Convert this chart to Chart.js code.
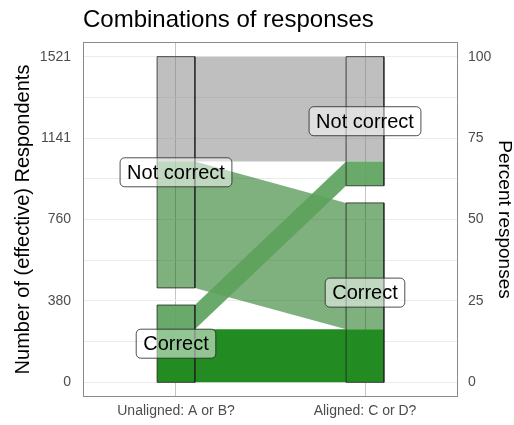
<!DOCTYPE html>
<html><head><meta charset="utf-8">
<script src="https://cdn.jsdelivr.net/npm/chart.js@4/dist/chart.umd.min.js"></script>
<style>html,body{margin:0;padding:0;background:#fff}</style>
</head><body>
<div style="width:514px;height:425px"><canvas id="c" width="514" height="425"></canvas></div>
<script>
// ---- data ----
const titleText = 'Combinations of responses';
const axisNames = ['Unaligned: A or B?', 'Aligned: C or D?'];
const strataNames = ['Correct', 'Not correct'];
const strataLabels = ['Correct', 'Not correct'];
const flowFrom = ['Not correct', 'Not correct', 'Correct', 'Correct'];
const flowTo   = ['Not correct', 'Correct', 'Not correct', 'Correct'];
const flowCounts = [490, 590, 113, 248];
const stratumGap = 80;
const countTicks = [0, 380, 760, 1141, 1521];
const countMinorTicks = [190, 570, 950, 1331];
const percentTicks = [0, 25, 50, 75, 100];
const countAxisTitle = 'Number of (effective) Respondents';
const percentAxisTitle = 'Percent responses';

// ---- styles ----
const flowColors = ['rgba(128,128,128,0.5)', 'rgba(0,100,0,0.5)', 'rgba(92,162,92,0.92)', 'rgb(34,139,34)'];
const boxHalf = 0.1;
const FONT = '"Liberation Sans", Arial, Helvetica, sans-serif';
Chart.defaults.font.family = FONT;

// ---- stacking (ggalluvial-like) ----
function stackAxis(keyArr, otherArr) {
  const lodes = new Array(flowCounts.length);
  const strata = {};
  let y = 0;
  strataNames.forEach((s, si) => {
    if (si > 0) y += stratumGap;
    const lo = y;
    const idx = flowCounts.map((_, i) => i).filter(i => keyArr[i] === s)
      .sort((a, b) => strataNames.indexOf(otherArr[a]) - strataNames.indexOf(otherArr[b]));
    idx.forEach(i => { lodes[i] = [y, y + flowCounts[i]]; y += flowCounts[i]; });
    strata[s] = [lo, y];
  });
  return {lodes, strata, total: y};
}
const left = stackAxis(flowFrom, flowTo);
const right = stackAxis(flowTo, flowFrom);
const axesStack = [left, right];
const total = countTicks[countTicks.length - 1];
const yMin = -total * 0.045, yMax = total * 1.045;

// ---- datasets ----
const datasets = [];
axesStack.forEach((st, ai) => {
  const a = ai + 1;
  strataNames.forEach(s => {
    const [lo, hi] = st.strata[s];
    datasets.push({
      data: [{x: a - boxHalf, y: lo}, {x: a - boxHalf, y: hi}, {x: a + boxHalf, y: hi}, {x: a + boxHalf, y: lo}, {x: a - boxHalf, y: lo}],
      borderColor: '#222', borderWidth: 0.8, pointRadius: 0, fill: false, tension: 0
    });
  });
});
for (let i = flowCounts.length - 1; i >= 0; i--) {
  const L = left.lodes[i], R = right.lodes[i];
  const top = [{x: 1 - boxHalf, y: L[1]}, {x: 1 + boxHalf, y: L[1]}, {x: 2 - boxHalf, y: R[1]}, {x: 2 + boxHalf, y: R[1]}];
  const bot = [{x: 1 - boxHalf, y: L[0]}, {x: 1 + boxHalf, y: L[0]}, {x: 2 - boxHalf, y: R[0]}, {x: 2 + boxHalf, y: R[0]}];
  datasets.push({data: top, borderColor: 'transparent', borderWidth: 0, pointRadius: 0, tension: 0, fill: '+1', backgroundColor: flowColors[i]});
  datasets.push({data: bot, borderColor: 'transparent', borderWidth: 0, pointRadius: 0, tension: 0, fill: false});
}

function roundRect(ctx, x, y, w, h, r) {
  ctx.beginPath();
  ctx.moveTo(x + r, y);
  ctx.lineTo(x + w - r, y); ctx.arcTo(x + w, y, x + w, y + r, r);
  ctx.lineTo(x + w, y + h - r); ctx.arcTo(x + w, y + h, x + w - r, y + h, r);
  ctx.lineTo(x + r, y + h); ctx.arcTo(x, y + h, x, y + h - r, r);
  ctx.lineTo(x, y + r); ctx.arcTo(x, y, x + r, y, r);
  ctx.closePath();
}

const decor = {
  id: 'decor',
  afterDatasetsDraw(chart) {
    const ctx = chart.ctx, xs = chart.scales.x, ys = chart.scales.y;
    ctx.save();
    ctx.font = '20px ' + FONT;
    ctx.textAlign = 'center';
    ctx.textBaseline = 'middle';
    axesStack.forEach((st, ai) => {
      strataNames.forEach((s, si) => {
        const [lo, hi] = st.strata[s];
        const cx = xs.getPixelForValue(ai + 1);
        const cy = ys.getPixelForValue((lo + hi) / 2);
        const txt = strataLabels[si];
        const w = ctx.measureText(txt).width + 14, h = 29;
        roundRect(ctx, cx - w / 2, cy - h / 2, w, h, 4.5);
        ctx.fillStyle = 'rgba(255,255,255,0.5)';
        ctx.fill();
        ctx.lineWidth = 0.8; ctx.strokeStyle = '#222';
        ctx.stroke();
        ctx.fillStyle = '#000';
        ctx.fillText(txt, cx, cy + 1);
      });
    });
    ctx.restore();
  },
  afterDraw(chart) {
    const ctx = chart.ctx, a = chart.chartArea;
    ctx.save();
    ctx.strokeStyle = '#8a8a8a'; ctx.lineWidth = 1;
    ctx.strokeRect(Math.round(a.left) + 0.5, Math.round(a.top) + 0.5, Math.round(a.right - a.left) - 1, Math.round(a.bottom - a.top) - 1);
    ctx.fillStyle = '#000';
    ctx.font = '24px ' + FONT;
    ctx.textAlign = 'left'; ctx.textBaseline = 'alphabetic';
    ctx.fillText(titleText, a.left, 27);
    ctx.restore();
  }
};

new Chart(document.getElementById('c'), {
  type: 'line',
  data: {datasets},
  plugins: [decor],
  options: {
    responsive: false, animation: false,
    layout: {padding: {top: 42, left: 0, right: 0, bottom: 0}},
    plugins: {legend: {display: false}, tooltip: {enabled: false}, title: {display: false}},
    scales: {
      x: {
        type: 'linear', min: 0.508, max: 2.492,
        afterBuildTicks: s => { s.ticks = [1, 2].map(v => ({value: v})); },
        afterFit: s => { s.height = 28; },
        ticks: {autoSkip: false, maxRotation: 0, padding: 6, color: '#4d4d4d', font: {size: 14}, callback: v => axisNames[v - 1]},
        grid: {color: '#c4c4c4', lineWidth: 1, drawTicks: false},
        border: {display: false}
      },
      y: {
        type: 'linear', position: 'left', min: yMin, max: yMax,
        afterBuildTicks: s => { s.ticks = countTicks.concat(countMinorTicks).sort((a, b) => a - b).map(v => ({value: v})); },
        afterFit: s => { s.width = 83; },
        ticks: {autoSkip: false, padding: 12, color: '#4d4d4d', font: {size: 14}, callback: v => countTicks.includes(v) ? String(v) : ''},
        grid: {color: '#ebebeb', lineWidth: 1, drawTicks: false},
        border: {display: false},
        title: {display: true, text: countAxisTitle, color: '#000', font: {size: 20, lineHeight: 1}, padding: {top: 13, bottom: 0}}
      },
      y2: {
        type: 'linear', position: 'right', display: true,
        min: yMin / total * 100, max: yMax / total * 100,
        afterBuildTicks: s => { s.ticks = percentTicks.map(v => ({value: v})); },
        afterFit: s => { s.width = 56; },
        ticks: {autoSkip: false, padding: 10, color: '#4d4d4d', font: {size: 14}, callback: v => String(v)},
        grid: {display: false, drawTicks: false},
        border: {display: false},
        title: {display: true, text: percentAxisTitle, color: '#000', font: {size: 19, lineHeight: 1}, padding: {top: 0, bottom: 0}}
      }
    }
  }
});
</script>
</body></html>
